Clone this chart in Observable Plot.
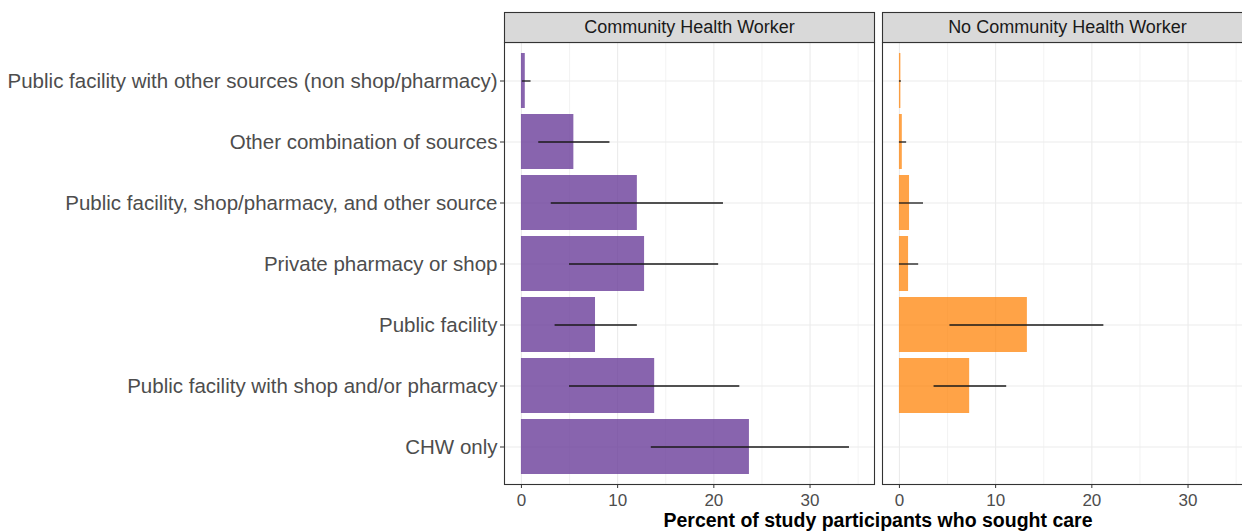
<!DOCTYPE html>
<html>
<head>
<meta charset="utf-8">
<script src="https://cdn.jsdelivr.net/npm/d3@7"></script>
<script src="https://cdn.jsdelivr.net/npm/@observablehq/plot@0.6"></script>
<style>
  html, body { margin: 0; padding: 0; background: #fff; overflow: hidden; }
  #wrap { width: 1242px; height: 531px; overflow: hidden; position: relative; }
  #chart svg { max-width: none !important; }
  #title {
    position: absolute; left: 503px; width: 750px; top: 509px; height: 22px;
    text-align: center; white-space: nowrap; color: #000;
    font: bold 19.5px "Liberation Sans", Arial, sans-serif; line-height: 22px;
  }
</style>
</head>
<body>
<div id="wrap">
  <div id="chart"></div>
  <div id="title">Percent of study participants who sought care</div>
</div>
<script>
// Care-seeking sources, top to bottom
const categories = [
  "Public facility with other sources (non shop/pharmacy)",
  "Other combination of sources",
  "Public facility, shop/pharmacy, and other source",
  "Private pharmacy or shop",
  "Public facility",
  "Public facility with shop and/or pharmacy",
  "CHW only"
];
const groups = ["Community Health Worker", "No Community Health Worker"];

// Percent of participants, with 95% interval bounds
const chwPct  = [0.4, 5.45, 12.05, 12.8, 7.7, 13.85, 23.7];
const chwLow  = [0.1, 1.8, 3.1, 5.0, 3.5, 5.0, 13.5];
const chwHigh = [1.0, 9.2, 21.0, 20.5, 12.05, 22.7, 34.1];

const noChwPct  = [0.15, 0.3, 1.05, 0.95, 13.3, 7.3, 0];
const noChwLow  = [0, 0, 0, 0, 5.25, 3.6, 0];
const noChwHigh = [0.2, 0.75, 2.5, 2.0, 21.25, 11.15, 0];

const majorTicks = [0, 10, 20, 30];
const minorTicks = [5, 15, 25, 35];

const rows = [];
categories.forEach((cat, i) => {
  rows.push({group: groups[0], cat, pct: chwPct[i], lo: chwLow[i], hi: chwHigh[i]});
  rows.push({group: groups[1], cat, pct: noChwPct[i], lo: noChwLow[i], hi: noChwHigh[i]});
});

const H = 509, panelTop = 42, panelBottom = 484;
const panelH = panelBottom - panelTop;
const font = '"Liberation Sans", Arial, sans-serif';

const chart = Plot.plot({
  width: 1262,
  height: H,
  marginLeft: 503,
  marginRight: 9,
  marginTop: panelTop,
  marginBottom: H - panelBottom,
  style: {fontFamily: font, background: "#fff", overflow: "visible", maxWidth: "none"},
  fx: {domain: groups, paddingInner: 0.021, paddingOuter: 0, axis: null},
  x: {domain: [-1.76, 36.7], axis: null},
  y: {domain: categories, paddingInner: 0.1, paddingOuter: 0.15, axis: null},
  marks: [
    Plot.gridX(minorTicks, {stroke: "#ebebeb", strokeOpacity: 1, strokeWidth: 0.6}),
    Plot.gridX(majorTicks, {stroke: "#ebebeb", strokeOpacity: 1, strokeWidth: 1.1}),
    Plot.gridY({stroke: "#ebebeb", strokeOpacity: 1, strokeWidth: 1.1}),
    Plot.barX(rows.filter(d => d.group === groups[0]), {
      fx: "group", y: "cat", x: "pct", fill: "#6a3d9a", fillOpacity: 0.8
    }),
    Plot.barX(rows.filter(d => d.group === groups[1]), {
      fx: "group", y: "cat", x: "pct", fill: "#ff7f00", fillOpacity: 0.72
    }),
    Plot.ruleY(rows.filter(d => d.hi > 0), {
      fx: "group", y: "cat", x1: "lo", x2: "hi", stroke: "#1a1a1a", strokeWidth: 1.3
    }),
    Plot.frame({stroke: "#333", strokeWidth: 1.1}),
    // strip header above each panel
    Plot.frame({insetTop: -30, insetBottom: panelH, fill: "#d9d9d9", stroke: "#333", strokeWidth: 1.1}),
    Plot.text(groups, {
      fx: d => d, text: d => d, frameAnchor: "top", lineAnchor: "middle",
      dy: -15, fontSize: 18, fill: "#1a1a1a"
    }),
    Plot.axisY({tickSize: 4, tickPadding: 3, fontSize: 20.5, fill: "#4d4d4d", stroke: "#333", label: null}),
    Plot.axisX({ticks: majorTicks, tickSize: 4, tickPadding: 5, fontSize: 17, fill: "#4d4d4d", stroke: "#333", label: null})
  ]
});
document.getElementById("chart").append(chart);
</script>
</body>
</html>
